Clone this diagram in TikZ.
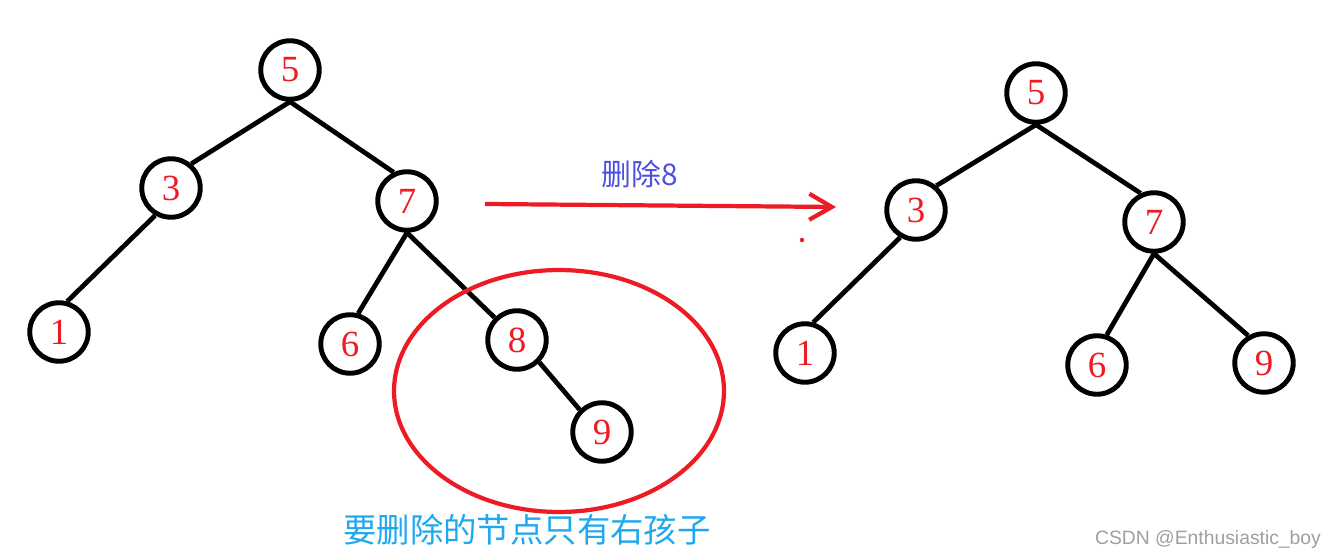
\documentclass[tikz,border=0pt]{standalone}
\usepackage{fontspec}
\newfontfamily\cjk{Noto Sans CJK SC}
\newfontfamily\wmfont{Liberation Sans}
\newfontfamily\digits{Liberation Serif}
\usepackage{tikz}
\usetikzlibrary{shapes.geometric, arrows.meta, positioning}
\definecolor{paintred}{RGB}{237,28,36}
\definecolor{notecyan}{RGB}{30,168,238}
\definecolor{noteblue}{RGB}{78,78,225}
\tikzstyle{bst}     = [circle, draw, line width=2.8pt, minimum size=1.17cm,
                       inner sep=0pt, text=paintred, font=\digits\fontsize{21}{21}\selectfont]
\tikzstyle{edge}    = [line width=2.7pt]
\tikzstyle{redline} = [draw=paintred, line width=2.4pt]
\tikzstyle{arrow}   = [-{Straight Barb[length=0.45cm, width=0.52cm, line width=2.4pt]},
                       line width=2.4pt, paintred]

\begin{document}
\begin{tikzpicture}[x=0.02cm, y=-0.02cm]
  \useasboundingbox (0,0) rectangle (1333,560);

  % tree before deleting
  \node[bst] (l5) at (290,70)  {5};
  \node[bst] (l3) at (171,188) {3};
  \node[bst] (l7) at (407,201) {7};
  \node[bst] (l1) at (59,332)  {1};
  \node[bst] (l6) at (350,344) {6};
  \node[bst] (l8) at (517,340) {8};
  \node[bst] (l9) at (602,432) {9};

  \draw[edge] (l5.south) -- (l3.50);
  \draw[edge] (l5.south) -- (l7.115);
  \draw[edge] (l3.240) -- (l1.75);
  \draw[edge] (l7.south) -- (l6.75);
  \draw[edge] (l7.south) -- (l8.north west);
  \draw[edge] (l8.south east) -- (l9.north west);

  \node[ellipse, redline, minimum width=6.6cm, minimum height=4.84cm] (ring) at (559,391) {};
  \node[font=\cjk\fontsize{19}{19}\selectfont, text=notecyan] (note) at (527,530) {要删除的节点只有右孩子};

  % arrow between the trees
  \coordinate (from) at (485,204);
  \coordinate (to) at (836,207);
  \draw[arrow] (from) -- (to);
  \node[font=\cjk\fontsize{17}{17}\selectfont, text=noteblue] (op) at (640,174) {删除8};
  \node[circle, fill=paintred, inner sep=0pt, minimum size=0.09cm] (dot) at (802,240) {};

  % tree after deleting
  \node[bst] (r5) at (1036,93)  {5};
  \node[bst] (r3) at (916,210)  {3};
  \node[bst] (r7) at (1154,222) {7};
  \node[bst] (r1) at (805,353)  {1};
  \node[bst] (r6) at (1097,365) {6};
  \node[bst] (r9) at (1264,363) {9};

  \draw[edge] (r5.south) -- (r3.50);
  \draw[edge] (r5.south) -- (r7.115);
  \draw[edge] (r3.240) -- (r1.75);
  \draw[edge] (r7.south) -- (r6.72);
  \draw[edge] (r7.south) -- (r9.120);

  \node[font=\wmfont\fontsize{11}{11}\selectfont, text=gray!75] (csdn) at (1208,540) {CSDN @Enthusiastic\_boy};
\end{tikzpicture}
\end{document}
